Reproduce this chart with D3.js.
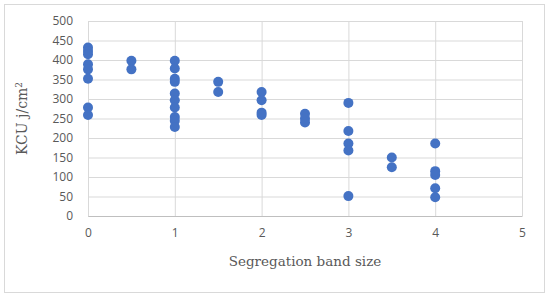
<!DOCTYPE html>
<html>
<head>
<meta charset="utf-8">
<script src="https://cdn.jsdelivr.net/npm/d3@7"></script>
<style>
  body { margin: 0; background: #fff; }
  svg { display: block; }
</style>
</head>
<body>
<svg id="chart"></svg>
<script>
// data
const bandSize = [0, 0, 0, 0, 0, 0, 0, 0,
  0.5, 0.5,
  1, 1, 1, 1, 1, 1, 1, 1, 1, 1,
  1.5, 1.5,
  2, 2, 2, 2,
  2.5, 2.5, 2.5,
  3, 3, 3, 3, 3,
  3.5, 3.5,
  4, 4, 4, 4, 4];
const kcu = [432, 423, 415, 389, 376, 352, 278, 259,
  398, 376,
  398, 378, 352, 344, 314, 297, 278, 254, 244, 228,
  344, 318,
  318, 297, 265, 259,
  262, 250, 240,
  290, 218, 186, 168, 51,
  150, 125,
  186, 115, 105, 71, 48];
const xTicks = [0, 1, 2, 3, 4, 5];
const yTicks = [0, 50, 100, 150, 200, 250, 300, 350, 400, 450, 500];

const width = 550, height = 299;
const margin = { top: 21, right: 28, bottom: 83, left: 88 };
const innerWidth = width - margin.left - margin.right;
const innerHeight = height - margin.top - margin.bottom;

const svg = d3.select("#chart").attr("width", width).attr("height", height);

// chart frame
svg.append("rect")
  .attr("x", 4.5).attr("y", 4.5)
  .attr("width", 540).attr("height", 288)
  .attr("fill", "#fff").attr("stroke", "#d9d9d9");

const g = svg.append("g").attr("transform", `translate(${margin.left},${margin.top})`);

const x = d3.scaleLinear().domain([0, 5]).range([0, innerWidth]);
const y = d3.scaleLinear().domain([0, 500]).range([innerHeight, 0]);

// gridlines (no labels here)
g.append("g")
  .call(d3.axisLeft(y).tickValues(yTicks).tickSize(-innerWidth))
  .call(a => a.select(".domain").remove())
  .call(a => a.selectAll("text").remove())
  .call(a => a.selectAll("line").attr("stroke", "#d9d9d9"));
g.append("g")
  .attr("transform", `translate(0,${innerHeight})`)
  .call(d3.axisBottom(x).tickValues(xTicks).tickSize(-innerHeight))
  .call(a => a.select(".domain").remove())
  .call(a => a.selectAll("text").remove())
  .call(a => a.selectAll("line").attr("stroke", "#d9d9d9"));

// tick labels
const yAxis = g.append("g")
  .call(d3.axisLeft(y).tickValues(yTicks).tickSize(0).tickPadding(15));
yAxis.select(".domain").remove();
yAxis.selectAll("text")
  .attr("fill", "#595959")
  .style("font-family", "'Open Sans', sans-serif")
  .style("font-size", "12px");

const xAxis = g.append("g")
  .attr("transform", `translate(0,${innerHeight})`)
  .call(d3.axisBottom(x).tickValues(xTicks).tickFormat(d3.format("d")).tickSize(0).tickPadding(12));
xAxis.select(".domain").attr("stroke", "#bfbfbf");
xAxis.selectAll("text")
  .attr("fill", "#595959")
  .style("font-family", "'Open Sans', sans-serif")
  .style("font-size", "12px");

// points
g.append("g")
  .selectAll("circle")
  .data(bandSize.map((d, i) => ({ bx: d, val: kcu[i] })))
  .join("circle")
  .attr("cx", d => x(d.bx))
  .attr("cy", d => y(d.val))
  .attr("r", 5)
  .attr("fill", "#4472c4");

// axis titles
svg.append("text")
  .attr("x", margin.left + innerWidth / 2)
  .attr("y", 266)
  .attr("text-anchor", "middle")
  .attr("fill", "#595959")
  .style("font-family", "'DejaVu Serif', serif")
  .style("font-size", "13.5px")
  .text("Segregation band size");

const yt = svg.append("text")
  .attr("transform", `translate(27,${margin.top + innerHeight / 2}) rotate(-90)`)
  .attr("text-anchor", "middle")
  .attr("fill", "#595959")
  .style("font-family", "'DejaVu Serif', serif")
  .style("font-size", "14px");
yt.append("tspan").text("KCU j/cm");
yt.append("tspan").attr("dy", -5).style("font-size", "9px").text("2");
</script>
</body>
</html>
